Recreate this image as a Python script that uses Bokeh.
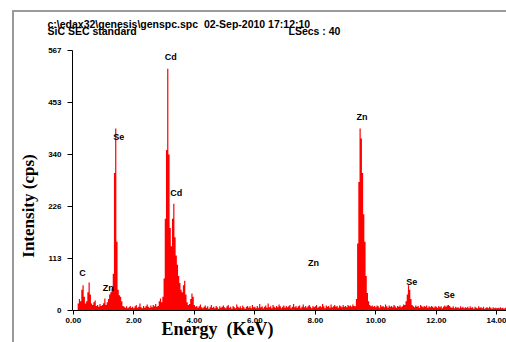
from bokeh.plotting import figure
from bokeh.models import Range1d, FixedTicker, Label, ColumnDataSource, InlineStyleSheet, GlobalInlineStyleSheet
from bokeh.embed import file_html
from bokeh.resources import INLINE

# ---- data ----
channel_width = 0.04  # keV per channel
counts = [
    0, 0, 0, 0, 15, 25, 20, 45, 55, 30, 15, 20, 40, 61, 35, 15, 12, 18, 22, 10, 12, 8, 14, 10, 12,
    16, 26, 12, 18, 25, 35, 40, 48, 80, 300, 397, 150, 45, 33, 30, 20, 10, 8, 6, 9, 5, 7, 10, 6, 8,
    5, 9, 12, 6, 8, 15, 7, 5, 10, 6, 9, 13, 8, 6, 11, 7, 12, 9, 14, 8, 10, 20, 26, 18, 30,
    70, 200, 350, 527, 340, 180, 140, 200, 233, 160, 120, 100, 75, 60, 45, 40, 55, 65, 35, 18, 12, 14, 25, 37, 30,
    12, 8, 10, 6, 9, 13, 7, 5, 8, 11, 6, 9, 4, 7, 12, 6, 8, 5, 10, 7, 4, 9, 6, 8, 11,
    7, 5, 9, 12, 6, 8, 4, 10, 7, 5, 13, 8, 6, 9, 5, 11, 7, 4, 8, 10, 6, 9, 5, 12, 7,
    8, 5, 10, 6, 14, 7, 9, 5, 8, 11, 6, 15, 7, 9, 5, 12, 8, 6, 10, 7, 13, 9, 5, 8, 11,
    6, 10, 7, 9, 12, 5, 8, 14, 7, 10, 6, 9, 11, 5, 8, 13, 7, 10, 6, 9, 12, 8, 5, 10, 7,
    9, 12, 6, 8, 10, 7, 14, 9, 5, 11, 8, 10, 6, 13, 7, 9, 12, 8, 10, 6, 11, 9, 7, 12, 8,
    10, 7, 12, 9, 11, 8, 13, 10, 9, 25, 146, 280, 397, 375, 300, 210, 150, 75, 38, 20, 12, 9, 11, 8, 10,
    7, 11, 9, 6, 12, 8, 10, 7, 13, 9, 6, 11, 8, 10, 7, 12, 9, 6, 10, 8, 11, 7, 9, 13, 12,
    20, 35, 55, 45, 25, 12, 9, 7, 11, 8, 10, 6, 12, 9, 7, 10, 8, 11, 6, 9, 7, 10, 8, 6, 9,
    8, 6, 10, 7, 9, 5, 8, 11, 8, 11, 12, 10, 7, 6, 9, 5, 8, 6, 7, 5, 9, 6, 8, 5, 7,
    6, 8, 5, 9, 6, 7, 4, 8, 6, 5, 9, 6, 7, 5, 8, 4, 6, 7, 5, 8, 6, 4, 7, 5, 6,
    5, 6, 5, 7, 5, 6, 4, 6, 5,
]
energies = [round(channel_width * i, 2) for i in range(len(counts))]

peak_labels = ["C", "Zn", "Se", "Cd", "Cd", "Zn", "Zn", "Se", "Se"]
peak_label_x = [0.30, 1.15, 1.50, 3.22, 3.40, 7.94, 9.54, 11.19, 12.43]
peak_label_y = [81, 48, 379, 552, 256, 103, 421, 62, 34]

y_ticks = [0, 113, 226, 340, 453, 567]
x_ticks = [0, 2, 4, 6, 8, 10, 12, 14]
x_tick_labels = ["0.00", "2.00", "4.00", "6.00", "8.00", "10.00", "12.00", "14.00"]

header_line1 = "c:\\edax32\\genesis\\genspc.spc  02-Sep-2010 17:12:10"
header_line2 = "SiC SEC standard"
header_right = "LSecs : 40"
NB = "\u00a0"

# ---- figure ----
p = figure(width=506, height=342, output_backend="svg", toolbar_location=None,
           x_range=Range1d(-0.03, 14.32), y_range=Range1d(0, 567),
           min_border_left=72, min_border_right=0, min_border_top=50, min_border_bottom=32)
p.background_fill_color = "white"
p.border_fill_color = "white"
p.outline_line_color = None
p.grid.visible = False

src = ColumnDataSource(dict(e=energies, c=counts))
p.varea_step(x="e", y1=0, y2="c", step_mode="center", fill_color="#ff0000", source=src)

# header as a two-line title
p.title.text = header_line1.replace("  ", NB + NB) + "\n" + header_line2 + NB * 52 + header_right
p.title.align = "left"
p.title.offset = -25
p.title.standoff = 27
p.title.text_font = "Liberation Sans"
p.title.text_font_style = "bold"
p.title.text_font_size = "10.5px"
p.title.text_line_height = 0.6
p.title.text_color = "black"

# axes
for ax in (p.xaxis[0], p.yaxis[0]):
    ax.axis_line_color = "black"
    ax.axis_line_width = 1
    ax.major_tick_line_color = "black"
    ax.major_tick_in = 0
    ax.major_tick_out = 5
    ax.minor_tick_line_color = None
    ax.major_label_text_font = "Liberation Sans"
    ax.major_label_text_font_style = "bold"
    ax.major_label_text_font_size = "8px"
    ax.major_label_text_color = "black"
    ax.axis_label_text_font = "Liberation Serif"
    ax.axis_label_text_font_style = "bold"
    ax.axis_label_text_color = "black"
p.yaxis[0].ticker = FixedTicker(ticks=y_ticks)
p.yaxis[0].major_label_standoff = 6
p.yaxis[0].axis_label = "Intensity (cps)" + NB * 12
p.yaxis[0].axis_label_text_font_size = "17px"
p.yaxis[0].axis_label_standoff = 7
p.xaxis[0].ticker = FixedTicker(ticks=x_ticks)
p.xaxis[0].major_label_overrides = {t: s for t, s in zip(x_ticks, x_tick_labels)}
p.xaxis[0].major_tick_out = 4
p.xaxis[0].major_label_standoff = 3
p.xaxis[0].axis_label = "Energy" + NB * 2 + "(KeV)" + NB * 32
p.xaxis[0].axis_label_text_font_size = "18px"
p.xaxis[0].axis_label_standoff = -7

# peak labels
for t, x, y in zip(peak_labels, peak_label_x, peak_label_y):
    p.add_layout(Label(x=x, y=y, text=t, text_align="center", text_baseline="middle",
                       text_font="Liberation Sans", text_font_style="bold",
                       text_font_size="9px", text_color="black"))

# grey page frame (left and top edges only); hide page scrollbars
p.stylesheets = [
    GlobalInlineStyleSheet(css="html, body { overflow: hidden; }"),
    InlineStyleSheet(css="""
:host { position: relative; }
:host::before { content: ""; position: absolute; left: 12px; top: 10px; width: 494px; height: 332px;
  box-sizing: border-box; border: 0 solid transparent;
  border-left: 2px solid #9a9a9a; border-top: 2px solid #9a9a9a; pointer-events: none; z-index: 10; }
"""),
]

open("out.html", "w").write(file_html(p, INLINE))
